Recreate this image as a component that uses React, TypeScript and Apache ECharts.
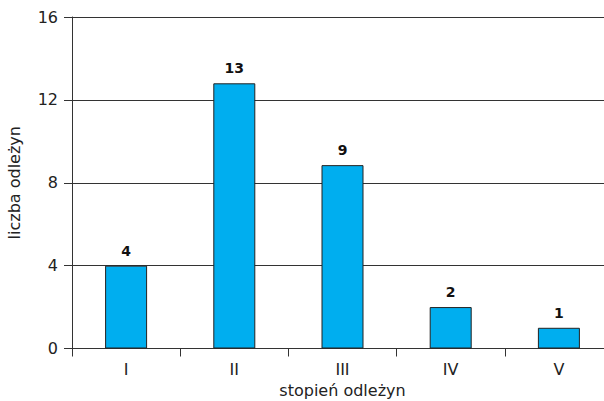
import React, { useEffect, useRef } from "react";
import * as echarts from "echarts";

const categories = ["I", "II", "III", "IV", "V"];
const values = [4, 12.8, 8.85, 2, 1];
const valueLabels = ["4", "13", "9", "2", "1"];
const yTicks = { min: 0, max: 16, interval: 4 };

const FONT = "DejaVu Sans";

export default function App() {
  const ref = useRef<HTMLDivElement>(null);
  useEffect(() => {
    if (!ref.current) return;
    const chart = echarts.init(ref.current, undefined, { renderer: "svg" });
    chart.setOption({
      animation: false,
      textStyle: { fontFamily: FONT },
      grid: {
        left: 72,
        right: -9,
        top: 17,
        bottom: 52.5,
        containLabel: false,
        outerBoundsMode: "none",
      },
      xAxis: {
        type: "category",
        data: categories,
        name: "stopień odleżyn",
        nameLocation: "middle",
        nameGap: 33,
        nameTextStyle: { fontSize: 16, color: "#222", fontFamily: FONT },
        axisLine: { show: true, lineStyle: { color: "#333", width: 1 } },
        axisTick: { show: true, length: 8, alignWithLabel: false, lineStyle: { color: "#333" } },
        axisLabel: { fontSize: 16, color: "#222", margin: 13, fontFamily: FONT },
        splitLine: { show: false },
      },
      yAxis: {
        type: "value",
        min: yTicks.min,
        max: yTicks.max,
        interval: yTicks.interval,
        name: "liczba odleżyn",
        nameLocation: "middle",
        nameGap: 50,
        nameRotate: 90,
        nameTextStyle: { fontSize: 16, color: "#222", fontFamily: FONT },
        axisLine: { show: true, lineStyle: { color: "#333", width: 1 } },
        axisTick: { show: true, length: 8, inside: false, lineStyle: { color: "#333" } },
        axisLabel: { fontSize: 16, color: "#222", margin: 14, fontFamily: FONT },
        splitLine: { show: true, lineStyle: { color: "#333", width: 1 } },
      },
      series: [
        {
          type: "bar",
          data: values,
          barWidth: 42,
          itemStyle: { color: "#00AEEF", borderColor: "#222", borderWidth: 1 },
          label: {
            show: true,
            position: "top",
            distance: 8,
            fontSize: 14,
            fontWeight: "bold",
            color: "#111",
            fontFamily: FONT,
            formatter: (p: any) => valueLabels[p.dataIndex],
          },
        },
      ],
    });
    return () => chart.dispose();
  }, []);
  return <div ref={ref} style={{ width: 604, height: 401, position: "absolute", left: 0, top: 0 }} />;
}
